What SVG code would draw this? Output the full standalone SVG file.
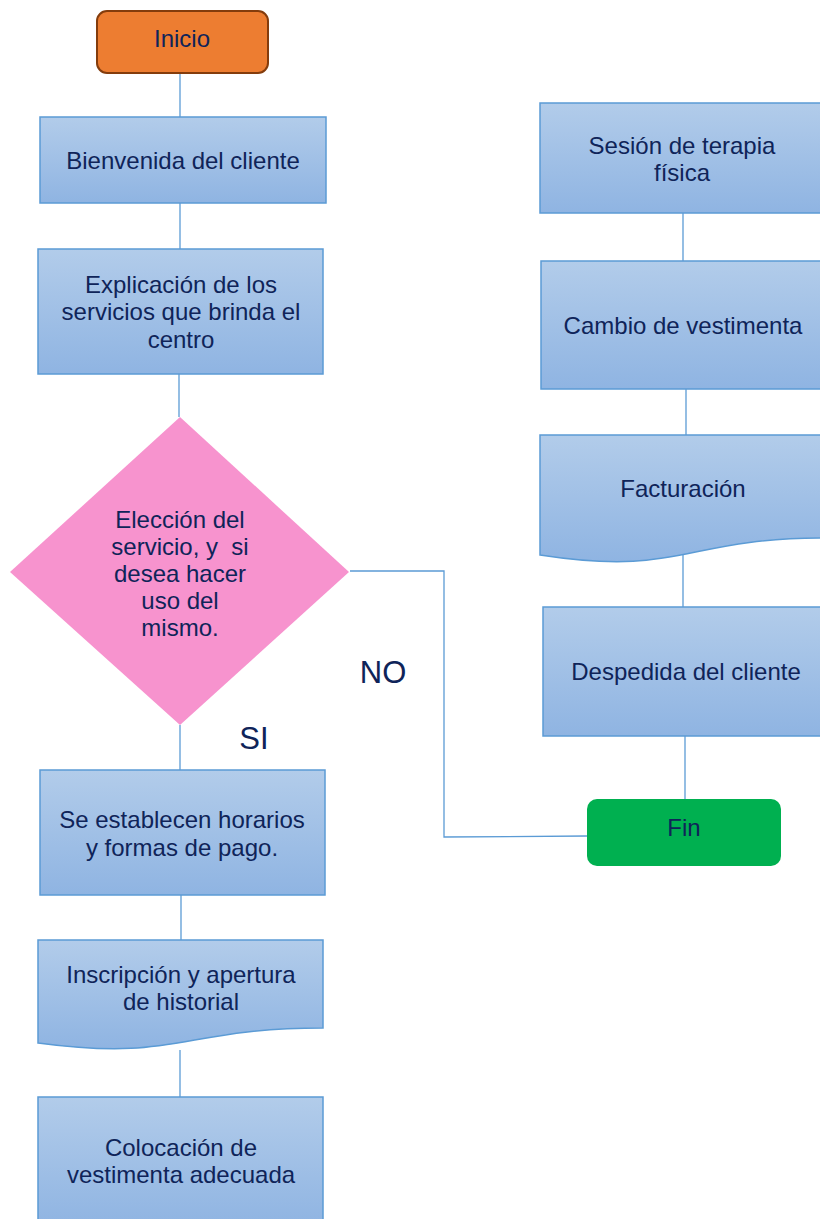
<svg xmlns="http://www.w3.org/2000/svg" width="820" height="1219" viewBox="0 0 820 1219">
<defs>
<linearGradient id="blue" x1="0" y1="0" x2="0" y2="1">
<stop offset="0" stop-color="#B2CCEA"/>
<stop offset="1" stop-color="#8FB4E2"/>
</linearGradient>
<style>
.proc{fill:url(#blue);stroke:#5B9BD5;stroke-width:1.5}
.t{font-family:"Liberation Sans",Arial,sans-serif;font-size:24px;fill:#0F2459;text-anchor:middle}
.lbl{font-family:"Liberation Sans",Arial,sans-serif;font-size:31px;fill:#0F2459;text-anchor:middle}
.c{fill:none;stroke:#5B9BD5;stroke-width:1.3}
</style>
</defs>
<rect width="820" height="1219" fill="#FFFFFF"/>
<g id="connectors">
<line class="c" x1="180" y1="73" x2="180" y2="117"/>
<line class="c" x1="180" y1="203" x2="180" y2="249"/>
<line class="c" x1="179" y1="374" x2="179" y2="417"/>
<line class="c" x1="180" y1="725" x2="180" y2="770"/>
<line class="c" x1="181" y1="895" x2="181" y2="940"/>
<line class="c" x1="180" y1="1050" x2="180" y2="1097"/>
<polyline class="c" points="350,571 444,571 444,837 587,836"/>
<line class="c" x1="683" y1="213" x2="683" y2="261"/>
<line class="c" x1="686" y1="389" x2="686" y2="435"/>
<line class="c" x1="683" y1="555" x2="683" y2="607"/>
<line class="c" x1="685" y1="736" x2="685" y2="799"/>
</g>
<g id="inicio">
<rect x="97" y="11" width="171" height="62" rx="10" fill="#ED7D31" stroke="#843C0C" stroke-width="2"/>
<text class="t" x="182" y="47">Inicio</text>
</g>
<g id="bienvenida">
<rect class="proc" x="40" y="117" width="286" height="86"/>
<text class="t" x="183" y="169">Bienvenida del cliente</text>
</g>
<g id="explicacion">
<rect class="proc" x="38" y="249" width="285" height="125"/>
<text class="t" x="181" y="293">Explicación de los</text>
<text class="t" x="181" y="320">servicios que brinda el</text>
<text class="t" x="181" y="348">centro</text>
</g>
<g id="eleccion">
<polygon points="180,417 349,572 180,725 10,572" fill="#F793CE"/>
<text class="t" x="180" y="528">Elección del</text>
<text class="t" x="180" y="555" xml:space="preserve">servicio, y  si</text>
<text class="t" x="180" y="582">desea hacer</text>
<text class="t" x="180" y="609">uso del</text>
<text class="t" x="180" y="636">mismo.</text>
</g>
<g id="labels">
<text class="lbl" x="383" y="683">NO</text>
<text class="lbl" x="254" y="749">SI</text>
</g>
<g id="horarios">
<rect class="proc" x="40" y="770" width="285" height="125"/>
<text class="t" x="182" y="828">Se establecen horarios</text>
<text class="t" x="182" y="856">y formas de pago.</text>
</g>
<g id="inscripcion">
<path class="proc" d="M38,940 H323 V1028 C180,1028 180,1062 38,1043 Z"/>
<text class="t" x="181" y="983">Inscripción y apertura</text>
<text class="t" x="181" y="1010">de historial</text>
</g>
<g id="colocacion">
<rect class="proc" x="38" y="1097" width="285" height="130"/>
<text class="t" x="181" y="1156">Colocación de</text>
<text class="t" x="181" y="1183">vestimenta adecuada</text>
</g>
<g id="sesion">
<rect class="proc" x="540" y="103" width="285" height="110"/>
<text class="t" x="682" y="154">Sesión de terapia</text>
<text class="t" x="682" y="181">física</text>
</g>
<g id="cambio">
<rect class="proc" x="541" y="261" width="285" height="128"/>
<text class="t" x="683" y="334">Cambio de vestimenta</text>
</g>
<g id="facturacion">
<path class="proc" d="M540,435 H825 V538 C682,538 682,577 540,555 Z"/>
<text class="t" x="683" y="497">Facturación</text>
</g>
<g id="despedida">
<rect class="proc" x="543" y="607" width="285" height="129"/>
<text class="t" x="686" y="680">Despedida del cliente</text>
</g>
<g id="fin">
<rect x="587" y="799" width="194" height="67" rx="10" fill="#00B050"/>
<text class="t" x="684" y="836">Fin</text>
</g>
</svg>
